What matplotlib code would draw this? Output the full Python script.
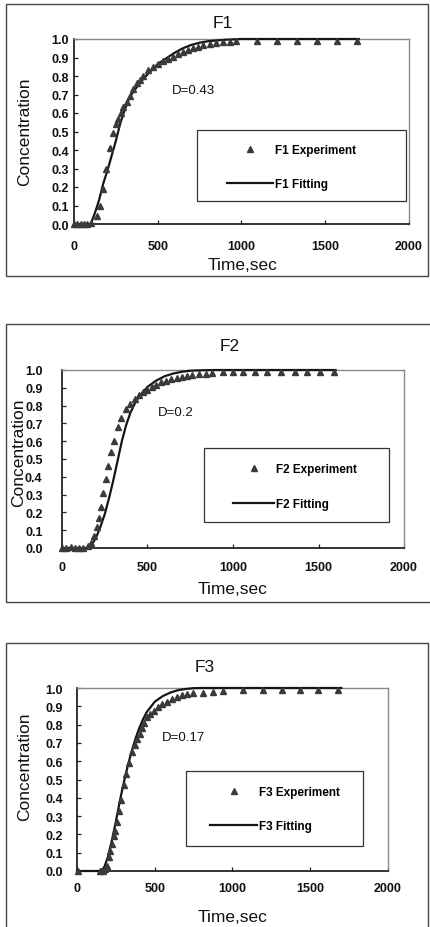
import numpy as np
import matplotlib
matplotlib.use('Agg')
import matplotlib.pyplot as plt
from matplotlib.patches import Rectangle
from matplotlib.ticker import FormatStrFormatter

plt.rcParams['font.family'] = ['Liberation Sans', 'DejaVu Sans']

# ---- data ----
f1_exp_t = [0, 20, 40, 60, 80, 100, 135, 155, 175, 191, 215, 235, 250, 265, 280, 294, 314, 334, 354,
            374, 394, 414, 444, 474, 504, 534, 563, 593, 623, 653, 683, 712, 742, 772, 810, 850, 890,
            930, 970, 1090, 1210, 1330, 1450, 1570, 1690]
f1_exp_c = [0.0, 0.0, 0.0, 0.0, 0.0, 0.005, 0.045, 0.10, 0.19, 0.30, 0.41, 0.49, 0.54, 0.57, 0.60,
            0.63, 0.66, 0.69, 0.73, 0.76, 0.78, 0.80, 0.83, 0.85, 0.865, 0.88, 0.89, 0.905, 0.92,
            0.93, 0.94, 0.95, 0.958, 0.965, 0.972, 0.977, 0.982, 0.985, 0.988, 0.99, 0.99, 0.99,
            0.99, 0.99, 0.99]
f1_fit_t = [0, 100, 125, 150, 175, 200, 225, 250, 275, 300, 325, 350, 400, 450, 500, 550, 600, 650,
            700, 750, 800, 900, 1000, 1700]
f1_fit_c = [0.0, 0.0, 0.06, 0.13, 0.22, 0.29, 0.37, 0.45, 0.54, 0.61, 0.67, 0.71, 0.77, 0.82, 0.865,
            0.895, 0.925, 0.95, 0.968, 0.98, 0.988, 0.996, 1.0, 1.0]

f2_exp_t = [0, 25, 50, 75, 100, 125, 150, 170, 190, 205, 215, 226, 240, 255, 270, 288, 304, 327, 347,
            376, 400, 425, 450, 475, 500, 525, 550, 580, 610, 640, 670, 700, 730, 760, 800, 840, 880,
            940, 1000, 1060, 1130, 1200, 1280, 1360, 1430, 1510, 1590]
f2_exp_c = [0.0, 0.0, 0.005, 0.0, 0.0, 0.0, 0.01, 0.03, 0.07, 0.12, 0.17, 0.23, 0.31, 0.39, 0.46,
            0.54, 0.60, 0.68, 0.73, 0.78, 0.81, 0.835, 0.86, 0.875, 0.89, 0.905, 0.915, 0.93, 0.94,
            0.95, 0.957, 0.963, 0.968, 0.972, 0.977, 0.98, 0.983, 0.986, 0.988, 0.99, 0.99, 0.99,
            0.99, 0.99, 0.99, 0.99, 0.99]
f2_fit_t = [0, 150, 175, 200, 225, 250, 275, 300, 325, 350, 375, 400, 425, 450, 500, 550, 600, 650,
            700, 750, 800, 900, 1600]
f2_fit_c = [0.0, 0.0, 0.02, 0.06, 0.12, 0.19, 0.28, 0.38, 0.49, 0.60, 0.69, 0.76, 0.81, 0.85, 0.905,
            0.94, 0.965, 0.98, 0.99, 0.996, 0.998, 1.0, 1.0]

f3_exp_t = [5, 150, 165, 180, 192, 204, 215, 225, 236, 246, 257, 268, 285, 300, 317, 336, 354, 370,
            386, 402, 418, 434, 450, 472, 493, 520, 547, 580, 611, 643, 675, 708, 746, 810, 875, 939,
            1068, 1196, 1318, 1434, 1550, 1680]
f3_exp_c = [0.0, 0.0, 0.0, 0.01, 0.03, 0.075, 0.11, 0.15, 0.19, 0.22, 0.27, 0.33, 0.39, 0.47, 0.53,
            0.59, 0.65, 0.69, 0.72, 0.75, 0.78, 0.81, 0.84, 0.86, 0.875, 0.895, 0.91, 0.925, 0.94,
            0.95, 0.96, 0.965, 0.97, 0.975, 0.98, 0.985, 0.99, 0.99, 0.99, 0.99, 0.99, 0.99]
f3_fit_t = [0, 150, 175, 200, 225, 250, 275, 300, 325, 350, 375, 400, 425, 450, 500, 550, 600, 650,
            700, 750, 800, 1700]
f3_fit_c = [0.0, 0.0, 0.02, 0.08, 0.17, 0.27, 0.38, 0.48, 0.57, 0.65, 0.72, 0.78, 0.83, 0.87, 0.925,
            0.955, 0.975, 0.988, 0.995, 0.999, 1.0, 1.0]

names = ['F1', 'F2', 'F3']
d_labels = ['D=0.43', 'D=0.2', 'D=0.17']
x_ticks = [0, 500, 1000, 1500, 2000]
y_ticks = [0.0, 0.1, 0.2, 0.3, 0.4, 0.5, 0.6, 0.7, 0.8, 0.9, 1.0]

W, H = 431, 928
fig = plt.figure(figsize=(W / 100, H / 100), dpi=100)
fig.patch.set_facecolor('white')


def fx(px):
    return px / W


def fy(py):
    return 1 - py / H


# layout in pixels: frame, axes, title, xlabel, ylabel, legend box, legend anchor, D text, pads
panels = [
    dict(frame=(6, 5, 428, 277), ax=(74, 40, 409, 225), title=(223, 23), xlab=(243, 265),
         ylab=(25, 132), leg_box=(0.367, 0.124, 0.624, 0.384), leg_anchor=(0.457, 0.308),
         hlen=3.9, dpos=(0.293, 0.724), xpad=11.5, ypad=3.5),
    dict(frame=(6, 325, 434, 603), ax=(62, 371, 404, 549), title=(230, 347), xlab=(233, 590),
         ylab=(19, 453), leg_box=(0.415, 0.146, 0.541, 0.416), leg_anchor=(0.5, 0.345),
         hlen=3.5, dpos=(0.281, 0.764), xpad=9.5, ypad=14),
    dict(frame=(6, 644, 428, 940), ax=(77, 689, 388, 872), title=(205, 668), xlab=(233, 918),
         ylab=(25, 767), leg_box=(0.350, 0.137, 0.570, 0.409), leg_anchor=(0.428, 0.339),
         hlen=4.0, dpos=(0.273, 0.732), xpad=8, ypad=10),
]

series = [(f1_exp_t, f1_exp_c, f1_fit_t, f1_fit_c),
          (f2_exp_t, f2_exp_c, f2_fit_t, f2_fit_c),
          (f3_exp_t, f3_exp_c, f3_fit_t, f3_fit_c)]

for i, p in enumerate(panels):
    l, t, r, b = p['frame']
    fig.add_artist(Rectangle((fx(l), fy(b)), (r - l) / W, (b - t) / H, transform=fig.transFigure,
                             fill=False, ec='#444444', lw=1.0))

    al, at, ar, ab = p['ax']
    ax = fig.add_axes([fx(al), fy(ab), (ar - al) / W, (ab - at) / H])
    exp_t, exp_c, fit_t, fit_c = series[i]

    fit_line, = ax.plot(fit_t, fit_c, '-', color='#151515', lw=1.6, clip_on=False, zorder=3)
    exp_pts, = ax.plot(exp_t, exp_c, '^', color='#3a3a3a', ms=5, mec='#3a3a3a', ls='none',
                       clip_on=False, zorder=4)

    ax.set_xlim(0, 2000)
    ax.set_ylim(0, 1)
    ax.set_xticks(x_ticks)
    ax.set_yticks(y_ticks)
    ax.yaxis.set_major_formatter(FormatStrFormatter('%.1f'))
    ax.tick_params(axis='both', direction='in', length=3, width=0.9, color='#222222',
                   labelsize=9, labelcolor='#111111')
    ax.tick_params(axis='x', pad=p['xpad'])
    ax.tick_params(axis='y', pad=p['ypad'])
    for lab in ax.get_xticklabels() + ax.get_yticklabels():
        lab.set_fontweight('bold')

    ax.spines['left'].set_color('#111111')
    ax.spines['bottom'].set_color('#111111')
    ax.spines['left'].set_linewidth(1.2)
    ax.spines['bottom'].set_linewidth(1.2)
    ax.spines['top'].set_color('#8a8a8a')
    ax.spines['right'].set_color('#8a8a8a')
    ax.spines['top'].set_linewidth(1.0)
    ax.spines['right'].set_linewidth(1.0)

    ax.text(p['dpos'][0], p['dpos'][1], d_labels[i], transform=ax.transAxes, fontsize=9.5,
            ha='left', va='center', color='#111111')

    bx, by, bw, bh = p['leg_box']
    ax.add_patch(Rectangle((bx, by), bw, bh, transform=ax.transAxes, fill=False,
                           ec='#333333', lw=0.9, zorder=5))
    ax.legend([exp_pts, fit_line], [names[i] + ' Experiment', names[i] + ' Fitting'],
              loc='center left', bbox_to_anchor=p['leg_anchor'], frameon=False,
              handlelength=p['hlen'], handletextpad=0.15, labelspacing=1.9, borderpad=0,
              borderaxespad=0, numpoints=1, prop={'weight': 'bold', 'size': 8.5})

    fig.text(fx(p['title'][0]), fy(p['title'][1]), names[i], fontsize=12.5, ha='center',
             va='center', color='#111111')
    fig.text(fx(p['xlab'][0]), fy(p['xlab'][1]), 'Time,sec', fontsize=12.5, ha='center',
             va='center', color='#111111')
    fig.text(fx(p['ylab'][0]), fy(p['ylab'][1]), 'Concentration', fontsize=12.5, ha='center',
             va='center', rotation=90, color='#111111')

fig.savefig('out.png', dpi=100)
